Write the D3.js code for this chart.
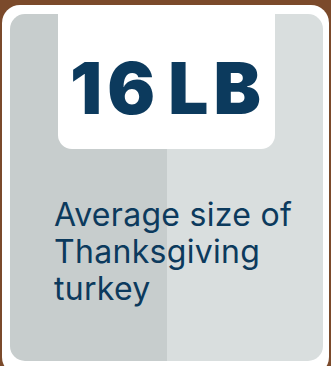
<!DOCTYPE html>
<html>
<head>
<meta charset="utf-8">
<script src="https://cdn.jsdelivr.net/npm/d3@7"></script>
<style>
  html, body { margin: 0; padding: 0; background: #7b4a2b; }
  svg { display: block; }
</style>
</head>
<body>
<div id="chart"></div>
<script>
// stat card data
const statValue = ["16", "LB"];
const captionLines = ["Average size of", "Thanksgiving", "turkey"];
const panels = ["left", "right"];
const panelColors = ["#c7cdcd", "#d9dede"];

const width = 331, height = 366;
const navy = "#0c3a5d";

const svg = d3.select("#chart").append("svg")
    .attr("width", width)
    .attr("height", height);

// outer white card
svg.append("rect")
    .attr("x", 2).attr("y", 5)
    .attr("width", 327).attr("height", 370)
    .attr("rx", 18)
    .attr("fill", "#ffffff");

// two grey halves, clipped to the rounded panel
const clip = svg.append("clipPath").attr("id", "panel-clip");
clip.append("rect")
    .attr("x", 10).attr("y", 14)
    .attr("width", 313).attr("height", 347)
    .attr("rx", 15);

const x = d3.scaleBand().domain(panels).range([10, 323]).paddingInner(0).paddingOuter(0);
// split isn't quite centred in the picture
const split = 167;

svg.append("g")
    .attr("clip-path", "url(#panel-clip)")
    .selectAll("rect")
    .data(panels)
    .join("rect")
    .attr("x", (d, i) => i == 0 ? x(d) : split)
    .attr("y", 14)
    .attr("width", (d, i) => i == 0 ? split - x(d) : x(d) + x.bandwidth() - split)
    .attr("height", 347)
    .attr("fill", (d, i) => panelColors[i]);

// white value box hanging from the top border
const box = { x0: 58, x1: 275, y0: 5, y1: 149, r: 14 };
svg.append("path")
    .attr("d", `M${box.x0},${box.y0} H${box.x1} V${box.y1 - box.r}
        A${box.r},${box.r} 0 0 1 ${box.x1 - box.r},${box.y1}
        H${box.x0 + box.r}
        A${box.r},${box.r} 0 0 1 ${box.x0},${box.y1 - box.r} Z`)
    .attr("fill", "#ffffff");

// big number
const big = svg.append("text")
    .attr("x", 70)
    .attr("y", 114)
    .attr("fill", navy)
    .style("font-family", "Inter, sans-serif")
    .style("font-weight", 900)
    .style("font-size", "71px")
    .style("letter-spacing", "-3px");
big.append("tspan").text(statValue[0]);
big.append("tspan").attr("dx", 8).text(statValue[1]);

// stretch the number to the width seen in the reference (70 -> 258)
big.attr("textLength", 188).attr("lengthAdjust", "spacing");

// caption
const lineY = d3.scalePoint().domain(captionLines).range([226, 300]);
svg.append("g")
    .selectAll("text")
    .data(captionLines)
    .join("text")
    .attr("x", 54)
    .attr("y", d => lineY(d))
    .attr("fill", navy)
    .style("font-family", "Inter, sans-serif")
    .style("font-weight", 400)
    .style("font-size", "32px")
    .style("letter-spacing", "0.3px")
    .text(d => d);
</script>
</body>
</html>
